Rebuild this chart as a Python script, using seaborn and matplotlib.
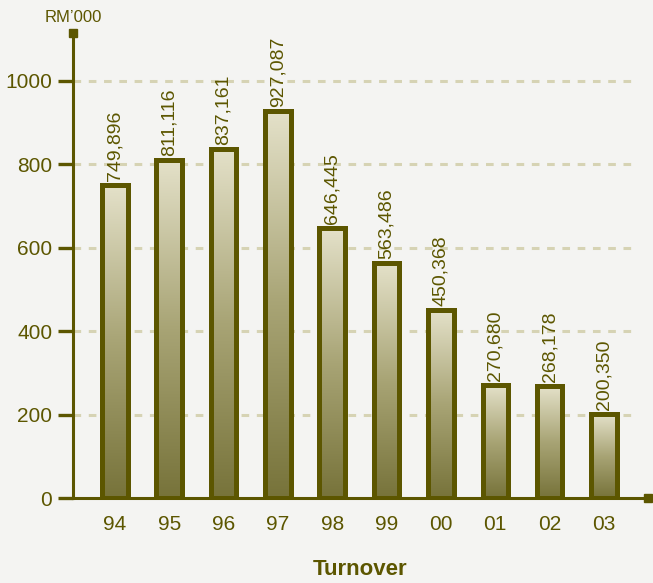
import numpy as np
import pandas as pd
import seaborn as sns
import matplotlib.pyplot as plt
from matplotlib.colors import LinearSegmentedColormap

years = ["94", "95", "96", "97", "98", "99", "00", "01", "02", "03"]
turnover = [749896, 811116, 837161, 927087, 646445, 563486, 450368, 270680, 268178, 200350]
y_ticks = [0, 200, 400, 600, 800, 1000]

OLIVE = "#5c5600"
BG = "#f4f4f2"
GRID = "#d6d3b4"

sns.set_theme(style="white")
plt.rcParams["font.family"] = ["Liberation Sans Narrow", "Liberation Sans", "DejaVu Sans"]

df = pd.DataFrame({"year": years, "value": np.array(turnover) / 1000.0})

fig = plt.figure(figsize=(6.53, 5.83), dpi=100, facecolor=BG)
ax = fig.add_axes([73 / 653, 85 / 583, 575 / 653, 465 / 583])
ax.set_facecolor(BG)

sns.barplot(data=df, x="year", y="value", ax=ax, width=0.47,
            facecolor="none", edgecolor=OLIVE, linewidth=3.6, zorder=3)

ax.set_xlim(-0.77, 9.81)
ax.set_ylim(0, 1115)

# vertical gradient fill clipped to each bar
cmap = LinearSegmentedColormap.from_list("olive_grad", ["#77733a", "#a8a475", "#e4e1c9"])
grad = np.linspace(0, 1, 256).reshape(-1, 1)
for patch, v in zip(ax.patches, turnover):
    x0, y0 = patch.get_x(), patch.get_y()
    w, h = patch.get_width(), patch.get_height()
    im = ax.imshow(grad, cmap=cmap, origin="lower", aspect="auto",
                   extent=(x0, x0 + w, y0, y0 + h), zorder=2)
    im.set_clip_path(patch)
    ax.text(x0 + w / 2, h + 10, f"{v:,}", rotation=90, ha="center", va="bottom",
            fontsize=14, color=OLIVE, zorder=4)

ax.set_xlim(-0.77, 9.81)
ax.set_ylim(0, 1115)

# dashed horizontal guides
for t in y_ticks[1:]:
    ax.plot([-0.77, 9.5], [t, t], color=GRID, lw=2.2, ls=(0, (2.5, 2.5)), zorder=1)

for s in ["top", "right"]:
    ax.spines[s].set_visible(False)
for s in ["left", "bottom"]:
    ax.spines[s].set_color(OLIVE)
    ax.spines[s].set_linewidth(2.2)
    ax.spines[s].set_zorder(5)

ax.set_yticks(y_ticks)
ax.set_yticklabels([str(t) for t in y_ticks])
ax.tick_params(axis="y", direction="out", length=11, width=2.4, color=OLIVE,
               labelsize=15, labelcolor=OLIVE, pad=4, left=True)
ax.tick_params(axis="x", length=0, labelsize=15, labelcolor=OLIVE, pad=12)

ax.set_xlabel("Turnover", fontsize=16, fontweight="bold", color=OLIVE, labelpad=18)
ax.set_ylabel("")

# square caps at the ends of the axes
ax.plot([0], [1], marker="s", ms=6, color=OLIVE, transform=ax.transAxes, clip_on=False, zorder=6)
ax.plot([1], [0], marker="s", ms=6, color=OLIVE, transform=ax.transAxes, clip_on=False, zorder=6)

fig.text(73 / 653, 1 - 17 / 583, "RM\u2019000", ha="center", va="center",
         fontsize=12, color=OLIVE)

fig.savefig("out.png", dpi=100, facecolor=BG)
